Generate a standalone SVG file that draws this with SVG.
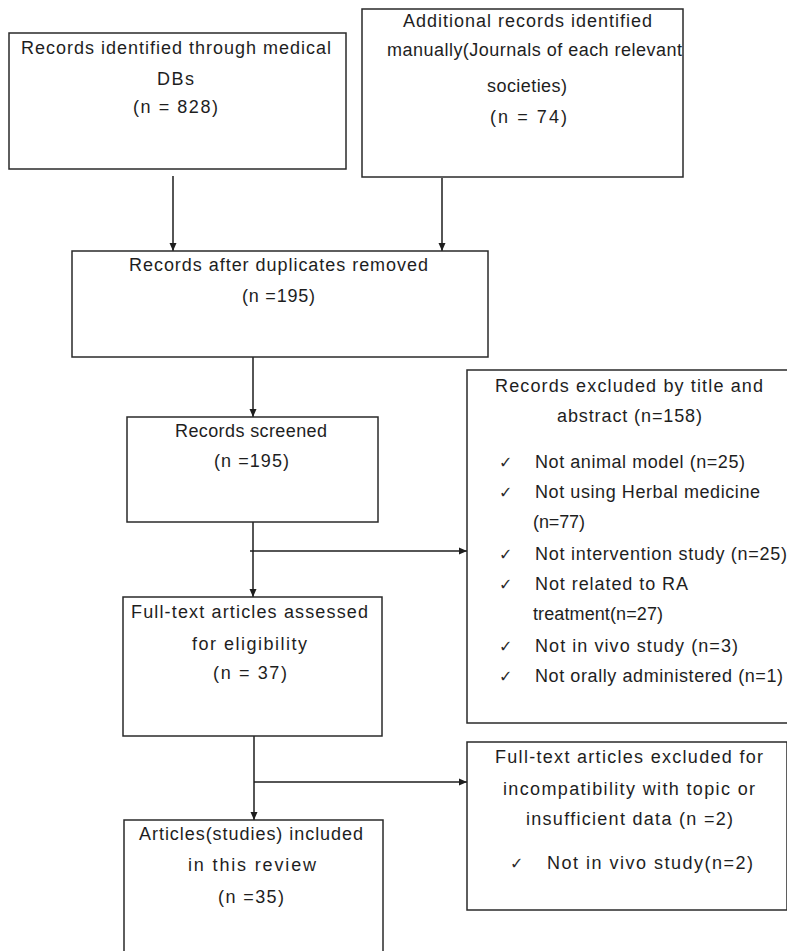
<svg xmlns="http://www.w3.org/2000/svg" width="787" height="951" viewBox="0 0 787 951">
<style>
.box{fill:#fff;stroke:#2a2a2a;stroke-width:1.5}
.t{font-family:"Liberation Sans",Arial,sans-serif;font-size:18px;fill:#1e1e1e}
.ck{font-family:"DejaVu Sans",sans-serif;font-size:16px;fill:#2a2a2a}
.c{fill:none;stroke:#1e1e1e;stroke-width:1.5;marker-end:url(#ah)}
</style>
<defs>
<marker id="ah" markerUnits="userSpaceOnUse" markerWidth="9" markerHeight="8" refX="8" refY="4" orient="auto">
<path d="M0,0.5 L8,4 L0,7.5 z" fill="#1e1e1e"/>
</marker>
</defs>
<rect width="787" height="951" fill="#fff"/>
<g id="connectors">
<line class="c" x1="173" y1="176" x2="173" y2="251"/>
<line class="c" x1="442" y1="178" x2="442" y2="251"/>
<line class="c" x1="253" y1="357" x2="253" y2="417"/>
<line class="c" x1="253" y1="522" x2="253" y2="597"/>
<line class="c" x1="250" y1="551" x2="467" y2="551"/>
<line class="c" x1="254" y1="736" x2="254" y2="820"/>
<line class="c" x1="254" y1="782" x2="467" y2="782"/>
</g>
<g id="n-db">
<rect class="box" x="9" y="33" width="337" height="136"/>
<text class="t" x="21" y="54" textLength="310" lengthAdjust="spacing">Records identified through medical</text>
<text class="t" x="157" y="85" textLength="37" lengthAdjust="spacing">DBs</text>
<text class="t" x="133" y="113" textLength="85" lengthAdjust="spacing">(n = 828)</text>
</g>
<g id="n-manual">
<rect class="box" x="362" y="9" width="321" height="168"/>
<text class="t" x="403" y="27" textLength="249" lengthAdjust="spacing">Additional records identified</text>
<text class="t" x="387" y="56" textLength="295" lengthAdjust="spacing">manually(Journals of each relevant</text>
<text class="t" x="487" y="92" textLength="80" lengthAdjust="spacing">societies)</text>
<text class="t" x="490" y="123" textLength="77" lengthAdjust="spacing">(n = 74)</text>
</g>
<g id="n-dup">
<rect class="box" x="72" y="251" width="416" height="106"/>
<text class="t" x="129" y="271" textLength="299" lengthAdjust="spacing">Records after duplicates removed</text>
<text class="t" x="242" y="302" textLength="73" lengthAdjust="spacing">(n =195)</text>
</g>
<g id="n-screened">
<rect class="box" x="127" y="417" width="251" height="105"/>
<text class="t" x="175" y="437" textLength="152" lengthAdjust="spacing">Records screened</text>
<text class="t" x="214" y="467" textLength="75" lengthAdjust="spacing">(n =195)</text>
</g>
<g id="n-excl1">
<rect class="box" x="467" y="370" width="340" height="353"/>
<text class="t" x="495" y="392" textLength="268" lengthAdjust="spacing">Records excluded by title and</text>
<text class="t" x="557" y="422" textLength="145" lengthAdjust="spacing">abstract (n=158)</text>
<text class="ck" x="499" y="468">✓</text>
<text class="t" x="535" y="468" textLength="210" lengthAdjust="spacing">Not animal model (n=25)</text>
<text class="ck" x="499" y="498">✓</text>
<text class="t" x="535" y="498" textLength="225" lengthAdjust="spacing">Not using Herbal medicine</text>
<text class="t" x="533" y="528" textLength="52" lengthAdjust="spacing">(n=77)</text>
<text class="ck" x="499" y="560">✓</text>
<text class="t" x="535" y="560" textLength="252" lengthAdjust="spacing">Not intervention study (n=25)</text>
<text class="ck" x="499" y="590">✓</text>
<text class="t" x="535" y="590" textLength="153" lengthAdjust="spacing">Not related to RA</text>
<text class="t" x="533" y="620" textLength="130" lengthAdjust="spacing">treatment(n=27)</text>
<text class="ck" x="499" y="652">✓</text>
<text class="t" x="535" y="652" textLength="203" lengthAdjust="spacing">Not in vivo study (n=3)</text>
<text class="ck" x="499" y="682">✓</text>
<text class="t" x="535" y="682" textLength="248" lengthAdjust="spacing">Not orally administered (n=1)</text>
</g>
<g id="n-fulltext">
<rect class="box" x="123" y="597" width="259" height="139"/>
<text class="t" x="131" y="618" textLength="237" lengthAdjust="spacing">Full-text articles assessed</text>
<text class="t" x="192" y="650" textLength="115" lengthAdjust="spacing">for eligibility</text>
<text class="t" x="213" y="679" textLength="74" lengthAdjust="spacing">(n = 37)</text>
</g>
<g id="n-excl2">
<rect class="box" x="467" y="742" width="320" height="168"/>
<text class="t" x="495" y="763" textLength="268" lengthAdjust="spacing">Full-text articles excluded for</text>
<text class="t" x="503" y="795" textLength="252" lengthAdjust="spacing">incompatibility with topic or</text>
<text class="t" x="526" y="825" textLength="207" lengthAdjust="spacing">insufficient data (n =2)</text>
<text class="ck" x="510" y="869">✓</text>
<text class="t" x="547" y="869" textLength="206" lengthAdjust="spacing">Not in vivo study(n=2)</text>
</g>
<g id="n-included">
<rect class="box" x="124" y="820" width="259" height="150"/>
<text class="t" x="139" y="840" textLength="224" lengthAdjust="spacing">Articles(studies) included</text>
<text class="t" x="188" y="871" textLength="128" lengthAdjust="spacing">in this review</text>
<text class="t" x="218" y="903" textLength="66" lengthAdjust="spacing">(n =35)</text>
</g>
</svg>
